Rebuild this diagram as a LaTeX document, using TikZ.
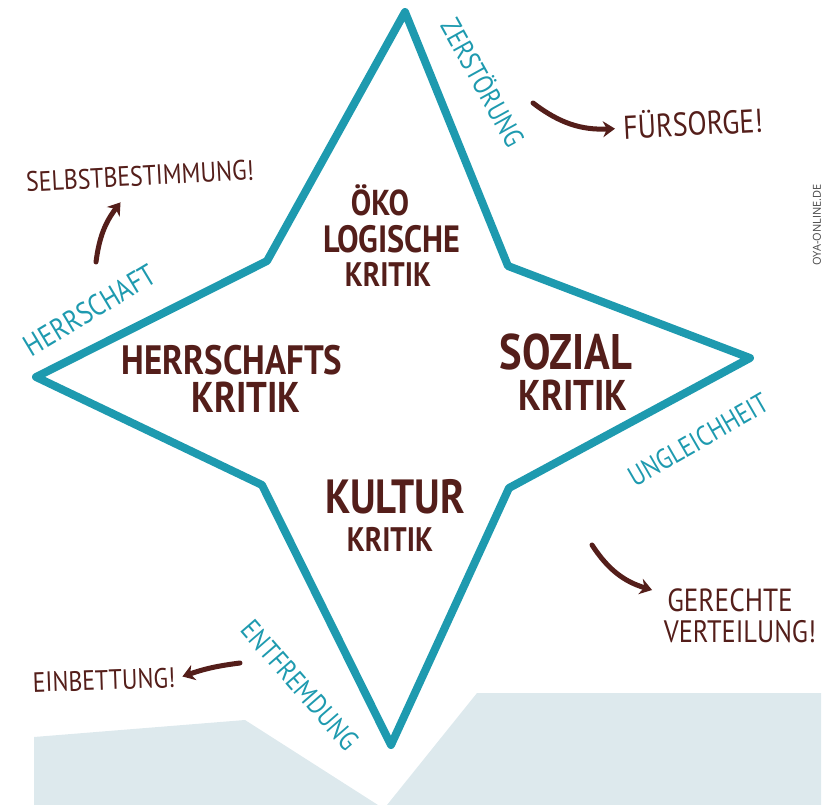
\documentclass[tikz,border=0pt]{standalone}
\usepackage{fontspec}
\usepackage{xcolor}
\usepackage{tikz}
\usetikzlibrary{arrows.meta, positioning, calc}
\newfontfamily\handfont{PT Sans}[FakeStretch=0.85]
\newfontfamily\webfont{Open Sans}
\definecolor{mybrown}{RGB}{84,30,26}
\definecolor{myteal}{RGB}{30,154,175}
\definecolor{mypale}{RGB}{221,233,237}
\definecolor{mygrey}{RGB}{70,70,70}
\tikzset{
  starline/.style={draw=myteal, line width=8pt, line join=round, line cap=round},
  kritik/.style={text=mybrown, inner sep=0pt,
    font=\handfont\bfseries\fontsize{#1}{#1}\selectfont},
  threat/.style={text=myteal, inner sep=0pt,
    font=\handfont\fontsize{#1}{#1}\selectfont},
  goal/.style={text=mybrown, inner sep=0pt,
    font=\handfont\fontsize{#1}{#1}\selectfont},
  hint/.style={-{Stealth[length=12pt,width=16pt]}, line width=5pt,
    color=mybrown, line cap=round},
  ground/.style={fill=mypale, draw=none}
}

\begin{document}
\begin{tikzpicture}[x=1pt, y=-1pt]
  \useasboundingbox (0,0) rectangle (830,805);
  % pale ground
  \fill[ground] (34,737) -- (245,720) -- (378,805) -- (34,805) -- cycle;
  \fill[ground] (387,805) -- (477,693) -- (821,693) -- (821,805) -- cycle;
  % star corners
  \coordinate (tip-n) at (405,12);
  \coordinate (in-ne) at (508,266);
  \coordinate (tip-e) at (750,358);
  \coordinate (in-se) at (509,488);
  \coordinate (tip-s) at (391,745);
  \coordinate (in-sw) at (262,485);
  \coordinate (tip-w) at (36,377);
  \coordinate (in-nw) at (267,261);
  \draw[starline] (tip-n) -- (in-ne) -- (tip-e) -- (in-se) -- (tip-s)
    -- (in-sw) -- (tip-w) -- (in-nw) -- cycle;
  % the four critiques
  \node[kritik=36] (oeko1) at (380,200) {ÖKO};
  \node[kritik=38, below=9pt of oeko1, xshift=12pt] (oeko2) {LOGISCHE};
  \node[kritik=34, below=9pt of oeko2, xshift=-4pt] (oeko3) {KRITIK};
  \node[kritik=41] (herr1) at (232,360) {HERRSCHAFTS};
  \node[kritik=43, below=7pt of herr1, xshift=14pt] (herr2) {KRITIK};
  \node[kritik=50] (sozial1) at (566,352) {SOZIAL};
  \node[kritik=43, below=9pt of sozial1, xshift=7pt] (sozial2) {KRITIK};
  \node[kritik=48] (kultur1) at (395,497) {KULTUR};
  \node[kritik=34, below=13pt of kultur1, xshift=-5pt] (kultur2) {KRITIK};
  % what goes wrong
  \node[threat=30, rotate=31] (herrschaft) at (90,310) {HERRSCHAFT};
  \node[threat=28, rotate=-61] (zerst) at (484,82) {ZERSTÖRUNG};
  \node[threat=28, rotate=30] (ungleich) at (698,440) {UNGLEICHHEIT};
  \node[threat=28, rotate=-49] (entfremd) at (300,685) {ENTFREMDUNG};
  % what is wanted instead
  \node[goal=28, rotate=3] (selbst) at (140,176) {SELBSTBESTIMMUNG!};
  \node[goal=33, rotate=3] (fuersorge) at (693,122) {FÜRSORGE!};
  \node[goal=32] (gerecht1) at (730,600) {GERECHTE};
  \node[goal=31, below=8pt of gerecht1, xshift=10pt] (gerecht2) {VERTEILUNG!};
  \node[goal=28, rotate=2] (einbett) at (104,680) {EINBETTUNG!};
  \node[rotate=90, text=mygrey, font=\webfont\fontsize{11}{11}\selectfont]
    (web) at (817,225) {OYA-ONLINE.DE};
  % arrows
  \coordinate (selbst-from) at (96,262);
  \coordinate (fuersorge-from) at (533,103);
  \coordinate (gerecht-from) at (592,545);
  \coordinate (einbett-from) at (240,663);
  \draw[hint] (selbst-from) to[bend left=15] ($(selbst.south)+(-20,16)$);
  \draw[hint] (fuersorge-from) to[bend right=20] ($(fuersorge.west)+(-8,3)$);
  \draw[hint] (gerecht-from) to[bend right=20] ($(gerecht1.west)+(-15,-10)$);
  \draw[hint] (einbett-from) to[bend right=6] ($(einbett.east)+(7,-1)$);
\end{tikzpicture}
\end{document}
